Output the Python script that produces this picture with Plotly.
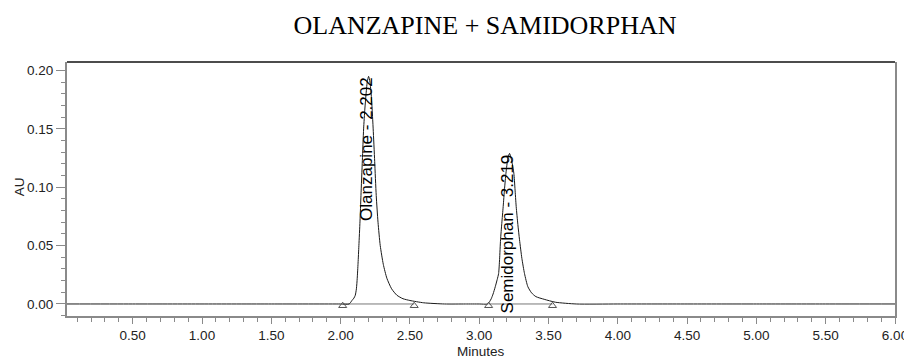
import plotly.graph_objects as go

# Chromatogram trace (retention time in minutes, absorbance in AU)
minutes = [0.026, 0.5, 1.0, 1.5, 2.0, 2.062, 2.082, 2.096, 2.106, 2.114, 2.120, 2.126, 2.132,
           2.140, 2.147, 2.157, 2.166, 2.175, 2.183, 2.192, 2.202, 2.212, 2.221, 2.228,
           2.235, 2.246, 2.257, 2.270, 2.286, 2.308, 2.334, 2.368, 2.406, 2.450, 2.500,
           2.600, 2.750, 2.900, 3.000, 3.060, 3.075, 3.087, 3.100, 3.116, 3.130, 3.140,
           3.147, 3.154, 3.163, 3.173, 3.183, 3.193, 3.207, 3.219, 3.232, 3.250, 3.258,
           3.267, 3.279, 3.291, 3.308, 3.327, 3.351, 3.378, 3.409, 3.469, 3.550, 3.700,
           4.0, 4.5, 5.0, 5.5, 6.0]
absorbance = [0.0, 0.0, 0.0, 0.0, 0.0, 0.0, 0.003, 0.005, 0.0075, 0.013, 0.022, 0.035, 0.050,
              0.071, 0.093, 0.123, 0.150, 0.167, 0.179, 0.190, 0.195, 0.190, 0.179, 0.166,
              0.150, 0.122, 0.093, 0.070, 0.050, 0.034, 0.022, 0.013, 0.0075, 0.0045, 0.003,
              0.001, 0.0, 0.0, 0.0, 0.0, 0.002, 0.0045, 0.0085, 0.0148, 0.021, 0.026,
              0.038, 0.055, 0.069, 0.0834, 0.099, 0.112, 0.125, 0.129, 0.124, 0.112, 0.099,
              0.0834, 0.068, 0.055, 0.039, 0.026, 0.0148, 0.0095, 0.0063, 0.004, 0.0015, 0.0,
              0.0, 0.0, 0.0, 0.0, 0.0]

# Integration start/end markers
marker_minutes = [2.015, 2.531, 3.068, 3.529]
marker_au = [-0.0015, -0.0015, -0.0015, -0.0015]

# Peak identification
peak_names = ["Olanzapine", "Semidorphan"]
peak_times = [2.202, 3.219]
peak_heights = [0.195, 0.129]

x_ticks = [0.5, 1.0, 1.5, 2.0, 2.5, 3.0, 3.5, 4.0, 4.5, 5.0, 5.5, 6.0]
x_tick_text = ["0.50", "1.00", "1.50", "2.00", "2.50", "3.00", "3.50", "4.00",
               "4.50", "5.00", "5.50", "6.00"]
y_ticks = [0.00, 0.05, 0.10, 0.15, 0.20]
y_tick_text = ["0.00", "0.05", "0.10", "0.15", "0.20"]

SANS = "Liberation Sans, Arial, sans-serif"
AXIS_GRAY = "#8a8a8a"

fig = go.Figure()

# Integration baselines between start/end markers
for i in range(0, len(marker_minutes), 2):
    fig.add_trace(go.Scatter(
        x=[marker_minutes[i], marker_minutes[i + 1]], y=[0.0, 0.0],
        mode="lines", line=dict(color="#777777", width=1),
        hoverinfo="skip", showlegend=False))

fig.add_trace(go.Scatter(
    x=minutes, y=absorbance, mode="lines",
    line=dict(color="#1a1a1a", width=1, shape="spline", smoothing=0.6),
    showlegend=False))

fig.add_trace(go.Scatter(
    x=marker_minutes, y=marker_au, mode="markers",
    marker=dict(symbol="triangle-up-open", size=7, color="#555555",
                line=dict(width=1, color="#555555")),
    showlegend=False))

for name, t, h in zip(peak_names, peak_times, peak_heights):
    fig.add_annotation(
        x=t, y=h, xref="x", yref="y",
        text=f"{name} - {t:.3f}", showarrow=False, textangle=-90,
        xanchor="center", yanchor="top", xshift=-2, borderpad=0,
        font=dict(family=SANS, size=17, color="#000000"))

# Axis titles
fig.add_annotation(x=0.5, y=-0.14, xref="paper", yref="paper", text="Minutes",
                   showarrow=False, xanchor="center", yanchor="middle",
                   font=dict(family=SANS, size=13.5, color="#222222"))
fig.add_annotation(x=-0.0563, y=0.508, xref="paper", yref="paper", text="AU",
                   showarrow=False, textangle=-90, xanchor="center", yanchor="middle",
                   font=dict(family=SANS, size=13.5, color="#222222"))

# Frame top edge
fig.add_shape(type="line", xref="paper", yref="paper", x0=0, x1=1, y0=1, y1=1,
              line=dict(color="#111111", width=1.5))

fig.update_layout(
    width=904, height=359,
    margin=dict(l=67, r=9, t=62, b=43, autoexpand=False),
    paper_bgcolor="white", plot_bgcolor="white",
    title=dict(text="OLANZAPINE + SAMIDORPHAN", xref="container", x=0.5365,
               xanchor="center", yref="container", y=0.93, yanchor="middle",
               font=dict(family="Liberation Serif, Times New Roman, serif",
                         size=26, color="#000000")),
    xaxis=dict(range=[0.026, 6.0], showgrid=False, zeroline=False, automargin=False,
               showline=True, linecolor=AXIS_GRAY, linewidth=2,
               tickmode="array", tickvals=x_ticks, ticktext=x_tick_text,
               ticks="outside", ticklen=6, tickwidth=1, tickcolor=AXIS_GRAY,
               ticklabeloverflow="allow",
               tickfont=dict(family=SANS, size=13.5, color="#222222"),
               minor=dict(dtick=0.1, tick0=0, ticks="outside", ticklen=3.5,
                          tickwidth=1, tickcolor=AXIS_GRAY)),
    yaxis=dict(range=[-0.0103, 0.2073], showgrid=False, zeroline=False, automargin=False,
               showline=True, linecolor=AXIS_GRAY, linewidth=2, mirror=True,
               tickmode="array", tickvals=y_ticks, ticktext=y_tick_text,
               ticks="outside", ticklen=9, tickwidth=1, tickcolor=AXIS_GRAY,
               tickfont=dict(family=SANS, size=13.5, color="#222222"),
               minor=dict(dtick=0.01, tick0=0, ticks="outside", ticklen=4,
                          tickwidth=1, tickcolor=AXIS_GRAY)),
)

fig.write_html("out.html")
